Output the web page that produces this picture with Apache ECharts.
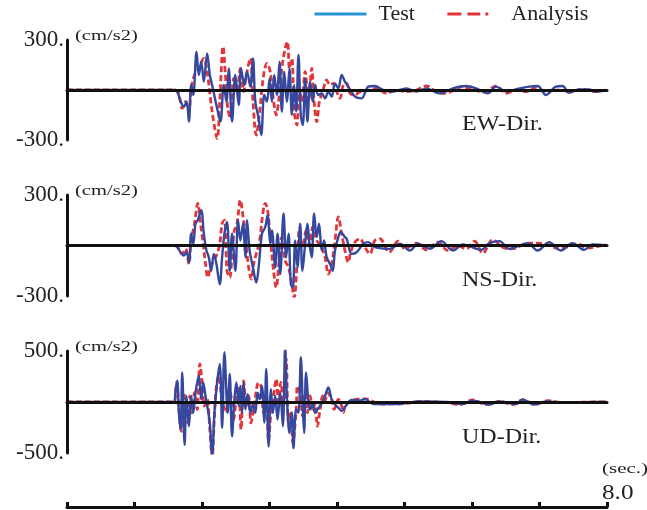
<!DOCTYPE html>
<html>
<head>
    <meta charset="utf-8">
    <title>Acceleration records</title>
    <script src="https://cdn.jsdelivr.net/npm/echarts@6.0.0/dist/echarts.min.js"></script>
    <style>
        html, body { margin: 0; padding: 0; background: #fff; }
        #chart { width: 647px; height: 510px; }
    </style>
</head>
<body>
    <div id="chart"></div>
    <script>
        // time (sec.) / acceleration (cm/s2) pairs
        const ewTest = [[0,0],[1.60,0],[1.683,-70],[1.732,-100],[1.771,-70],[1.806,-190],[1.840,30],[1.870,-30],[1.919,230],[1.953,90],[1.988,170],[2.027,50],[2.076,220],[2.116,90],[2.150,30],[2.224,-110],[2.273,-190],[2.322,30],[2.362,-70],[2.396,130],[2.445,-190],[2.494,90],[2.544,-90],[2.578,130],[2.627,30],[2.667,110],[2.716,20],[2.755,190],[2.790,-70],[2.839,-170],[2.878,-270],[2.922,-30],[2.962,-70],[3.001,70],[3.036,-70],[3.070,90],[3.109,-30],[3.149,170],[3.183,-130],[3.218,110],[3.257,-70],[3.296,130],[3.331,-150],[3.365,30],[3.395,-130],[3.429,210],[3.464,-150],[3.493,-210],[3.528,70],[3.562,-190],[3.602,50],[3.641,-70],[3.675,30],[3.724,-30],[3.774,-20],[3.823,-50],[3.872,-10],[3.921,-40],[3.970,40],[4.020,10],[4.069,90],[4.118,50],[4.168,20],[4.266,-40],[4.364,-50],[4.463,20],[4.561,24],[4.684,0],[4.832,-10],[5.029,10],[5.176,-10],[5.324,10],[5.521,-20],[5.717,10],[5.914,24],[6.062,10],[6.234,-20],[6.357,20],[6.505,-10],[6.652,4],[6.849,20],[6.972,24],[7.095,-30],[7.243,20],[7.341,24],[7.439,-16],[7.587,4],[7.734,4],[7.833,-10],[7.980,0]];
        const ewAnalysis = [[0,0],[1.60,0],[1.658,-30],[1.707,-110],[1.756,-70],[1.806,-130],[1.840,10],[1.889,90],[1.953,130],[2.027,190],[2.076,110],[2.125,-50],[2.165,-170],[2.224,-290],[2.263,-70],[2.312,260],[2.347,90],[2.381,-110],[2.421,-170],[2.470,70],[2.519,-10],[2.568,130],[2.617,-10],[2.657,90],[2.716,190],[2.755,-70],[2.804,-270],[2.854,-130],[2.913,90],[2.962,160],[3.011,110],[3.050,-30],[3.100,-150],[3.134,-70],[3.183,130],[3.232,250],[3.267,290],[3.296,130],[3.331,190],[3.365,-130],[3.405,-210],[3.444,10],[3.478,-70],[3.528,110],[3.577,-70],[3.626,130],[3.661,-70],[3.700,-190],[3.739,-70],[3.788,-10],[3.847,60],[3.897,30],[3.946,40],[3.995,-10],[4.044,-50],[4.094,30],[4.143,40],[4.192,-20],[4.266,-30],[4.340,-10],[4.438,-4],[4.586,10],[4.733,-20],[4.881,0],[5.029,-10],[5.176,0],[5.324,24],[5.471,-10],[5.594,-20],[5.717,-4],[5.865,20],[6.013,0],[6.185,-10],[6.357,24],[6.505,-20],[6.652,0],[6.800,-10],[6.947,16],[7.095,-10],[7.243,0],[7.439,-10],[7.636,4],[7.833,-10],[7.980,0]];

        const nsTest = [[0,0],[1.60,0],[1.683,-40],[1.732,-60],[1.771,-40],[1.806,-100],[1.840,70],[1.870,10],[1.904,130],[1.938,150],[1.988,210],[2.027,70],[2.066,-30],[2.101,-70],[2.135,-150],[2.175,-50],[2.214,-110],[2.263,-230],[2.298,-70],[2.332,70],[2.371,140],[2.411,-150],[2.445,70],[2.494,-150],[2.534,150],[2.568,30],[2.608,130],[2.642,-70],[2.667,150],[2.706,-30],[2.755,-130],[2.804,-220],[2.839,-130],[2.888,70],[2.937,110],[2.972,180],[3.011,10],[3.036,90],[3.085,-130],[3.119,70],[3.159,-170],[3.208,190],[3.247,-70],[3.282,70],[3.316,-230],[3.346,-250],[3.380,30],[3.415,-130],[3.454,130],[3.488,-150],[3.528,10],[3.562,130],[3.592,10],[3.626,-70],[3.661,190],[3.700,50],[3.734,130],[3.774,-30],[3.808,30],[3.847,-70],[3.897,-110],[3.936,-150],[3.970,-30],[4.020,50],[4.054,80],[4.118,50],[4.143,40],[4.217,-50],[4.290,-40],[4.389,10],[4.463,20],[4.561,-10],[4.783,-20],[4.930,10],[5.078,-30],[5.201,10],[5.373,-20],[5.545,26],[5.717,-30],[5.865,6],[6.135,-26],[6.259,14],[6.406,26],[6.554,-20],[6.824,14],[6.972,-30],[7.144,20],[7.316,-30],[7.489,14],[7.661,-26],[7.784,6],[7.990,0]];
        const nsAnalysis = [[0,0],[1.60,0],[1.707,-50],[1.756,-20],[1.806,-110],[1.840,30],[1.889,130],[1.938,250],[1.978,130],[2.017,10],[2.052,-110],[2.086,-190],[2.125,-130],[2.175,-90],[2.224,-50],[2.263,10],[2.298,130],[2.332,150],[2.371,-150],[2.411,-190],[2.445,-50],[2.480,90],[2.519,130],[2.568,270],[2.608,170],[2.642,50],[2.691,-130],[2.731,-200],[2.765,-110],[2.854,30],[2.888,150],[2.937,250],[2.972,210],[3.011,50],[3.060,-150],[3.100,-250],[3.134,-130],[3.183,50],[3.232,-90],[3.282,-130],[3.331,-230],[3.365,-310],[3.405,-130],[3.444,90],[3.493,-10],[3.542,90],[3.592,0],[3.641,110],[3.700,30],[3.759,0],[3.823,-70],[3.872,-170],[3.921,-110],[3.970,30],[4.020,170],[4.069,70],[4.118,-30],[4.167,-100],[4.202,-40],[4.266,20],[4.340,40],[4.414,-10],[4.487,-50],[4.561,30],[4.635,40],[4.773,-40],[4.906,26],[5.004,-20],[5.176,14],[5.324,-26],[5.496,20],[5.644,-30],[5.791,0],[5.914,-20],[6.037,26],[6.160,-46],[6.308,34],[6.455,-10],[6.579,-20],[6.849,14],[7.095,10],[7.292,-20],[7.562,10],[7.710,-14],[7.980,6]];

        const udTest = [[0,0],[1.58,0],[1.609,125],[1.633,208],[1.658,-106],[1.683,-270],[1.707,290],[1.742,-420],[1.771,60],[1.806,-238],[1.840,60],[1.870,-106],[1.904,92],[1.953,257],[1.988,26],[2.017,191],[2.052,60],[2.086,-73],[2.116,-205],[2.150,-535],[2.184,-106],[2.224,191],[2.263,373],[2.298,-254],[2.332,488],[2.381,-106],[2.411,274],[2.445,-337],[2.480,26],[2.509,191],[2.544,-40],[2.568,158],[2.593,-106],[2.617,191],[2.642,-73],[2.676,76],[2.716,-106],[2.755,-23],[2.790,-106],[2.824,92],[2.854,26],[2.888,158],[2.922,-205],[2.952,323],[2.986,-436],[3.021,125],[3.050,-106],[3.085,60],[3.119,-172],[3.159,92],[3.198,-238],[3.232,538],[3.257,60],[3.296,-304],[3.331,-106],[3.355,-452],[3.395,-73],[3.429,-106],[3.464,439],[3.493,-40],[3.513,-304],[3.542,290],[3.577,-7],[3.602,-73],[3.641,-7],[3.675,-106],[3.710,-73],[3.749,-40],[3.788,10],[3.823,60],[3.872,142],[3.921,26],[3.970,-23],[4.020,-56],[4.069,-89],[4.133,-36],[4.217,20],[4.340,13],[4.414,30],[4.537,-20],[4.881,-20],[5.226,6],[5.619,0],[5.865,-20],[6.013,13],[6.259,-26],[6.406,6],[6.652,-20],[6.750,26],[6.923,-26],[7.095,6],[7.341,-6],[7.833,0],[8.0,0]];
        const udAnalysis = [[0,0],[1.58,0],[1.624,191],[1.658,-73],[1.692,-287],[1.732,92],[1.756,-106],[1.791,-205],[1.820,60],[1.855,-106],[1.889,92],[1.929,-73],[1.968,373],[2.002,191],[2.037,-40],[2.076,26],[2.116,-270],[2.150,-551],[2.184,-139],[2.214,158],[2.248,257],[2.283,92],[2.322,-40],[2.362,-106],[2.396,125],[2.430,60],[2.470,-172],[2.509,60],[2.544,158],[2.578,-270],[2.617,208],[2.657,-40],[2.691,60],[2.726,-205],[2.765,-73],[2.839,191],[2.873,158],[2.913,-106],[2.952,92],[2.986,-386],[3.021,-106],[3.060,60],[3.100,224],[3.134,-40],[3.168,191],[3.208,-40],[3.247,422],[3.282,-205],[3.316,-89],[3.346,-403],[3.395,-73],[3.415,158],[3.454,92],[3.493,-139],[3.528,92],[3.562,-106],[3.602,60],[3.641,-73],[3.675,-7],[3.710,-238],[3.749,-73],[3.788,60],[3.823,10],[3.857,92],[3.921,26],[3.956,-73],[4.020,26],[4.069,-40],[4.094,-102],[4.133,-20],[4.241,20],[4.428,30],[4.635,-20],[5.029,-13],[5.226,6],[5.619,-6],[5.816,-26],[6.013,20],[6.209,-26],[6.406,6],[6.603,-26],[6.750,20],[6.947,-20],[7.119,13],[7.341,-6],[7.833,0],[8.0,0]];

        const panels = [
            { test: ewTest, analysis: ewAnalysis, limit: 300, label: 'EW-Dir.' },
            { test: nsTest, analysis: nsAnalysis, limit: 300, label: 'NS-Dir.' },
            { test: udTest, analysis: udAnalysis, limit: 500, label: 'UD-Dir.' }
        ];
        const timeMax = 8;
        const timeLabel = '8.0';

        const serif = '"Liberation Serif", "DejaVu Serif", serif';
        const ink = '#222';
        const blue = '#34489f';
        const red = '#e2353b';
        const gridTops = [40, 195, 351];
        const gridHeights = [100, 101, 102];

        const chart = echarts.init(document.getElementById('chart'), null, { renderer: 'canvas' });

        // text that is drawn a little wider than the font, as in the source figure
        function wideText(x, y, text, size, sx) {
            return {
                type: 'text', x: x, y: y, scaleX: sx,
                style: { text: text, font: size + 'px ' + serif, fill: ink, verticalAlign: 'middle' }
            };
        }

        const grid = [], xAxis = [], yAxis = [], series = [], graphic = [];
        panels.forEach((p, i) => {
            grid.push({ left: 67, right: 40, top: gridTops[i], height: gridHeights[i] });
            xAxis.push({
                type: 'value', gridIndex: i, min: 0, max: timeMax, z: 10,
                axisLine: { onZero: true, lineStyle: { color: '#111', width: 3 } },
                axisTick: { show: false }, axisLabel: { show: false }, splitLine: { show: false }
            });
            yAxis.push({
                type: 'value', gridIndex: i, min: -p.limit, max: p.limit, interval: p.limit * 2, z: 10,
                axisLine: { show: true, lineStyle: { color: '#111', width: 3 } },
                axisTick: { show: false }, splitLine: { show: false },
                axisLabel: {
                    margin: 3, color: ink, fontFamily: serif, fontSize: 23,
                    formatter: v => v + '.'
                }
            });
            series.push({
                name: 'Analysis', type: 'line', xAxisIndex: i, yAxisIndex: i,
                data: p.analysis, symbol: 'none', smooth: 0.35, z: 2, animation: false,
                lineStyle: { color: red, width: 2.8, type: [6, 3] }, itemStyle: { color: red }
            });
            series.push({
                name: 'Test', type: 'line', xAxisIndex: i, yAxisIndex: i,
                data: p.test, symbol: 'none', smooth: 0.35, z: 3, animation: false,
                lineStyle: { color: blue, width: 2.4 }, itemStyle: { color: blue }
            });
            graphic.push(wideText(75, gridTops[i] - 4, '(cm/s2)', 15, 1.37));
            graphic.push(wideText(462, gridTops[i] + gridHeights[i] - 15, p.label, 20, 1.2));
        });

        // bottom time axis
        grid.push({ left: 67, right: 40, top: 470, height: 37 });
        xAxis.push({
            type: 'value', gridIndex: 3, min: 0, max: timeMax, interval: 1,
            axisLine: { lineStyle: { color: '#111', width: 3 } },
            axisTick: { inside: true, length: 5, lineStyle: { color: '#111', width: 3 } },
            axisLabel: { show: false }, splitLine: { show: false }
        });
        yAxis.push({ type: 'value', gridIndex: 3, show: false });
        graphic.push(wideText(602, 469, '(sec.)', 15, 1.4));
        graphic.push(wideText(602, 493, timeLabel, 21, 1.2));

        chart.setOption({
            backgroundColor: '#fff',
            animation: false,
            legend: {
                left: 313, top: 3, padding: 0, itemWidth: 52, itemHeight: 3, itemGap: 31,
                textStyle: { fontFamily: serif, fontSize: 22, color: ink, padding: [0, 0, 0, 7] },
                data: [
                    { name: 'Test', itemStyle: { color: '#2a93d5' }, lineStyle: { color: '#2a93d5', width: 3, type: 'solid' } },
                    { name: 'Analysis', itemStyle: { color: red }, lineStyle: { color: red, width: 3, type: [14, 6, 13, 5, 3, 20] } }
                ]
            },
            grid, xAxis, yAxis, series, graphic
        });
    </script>
</body>
</html>
